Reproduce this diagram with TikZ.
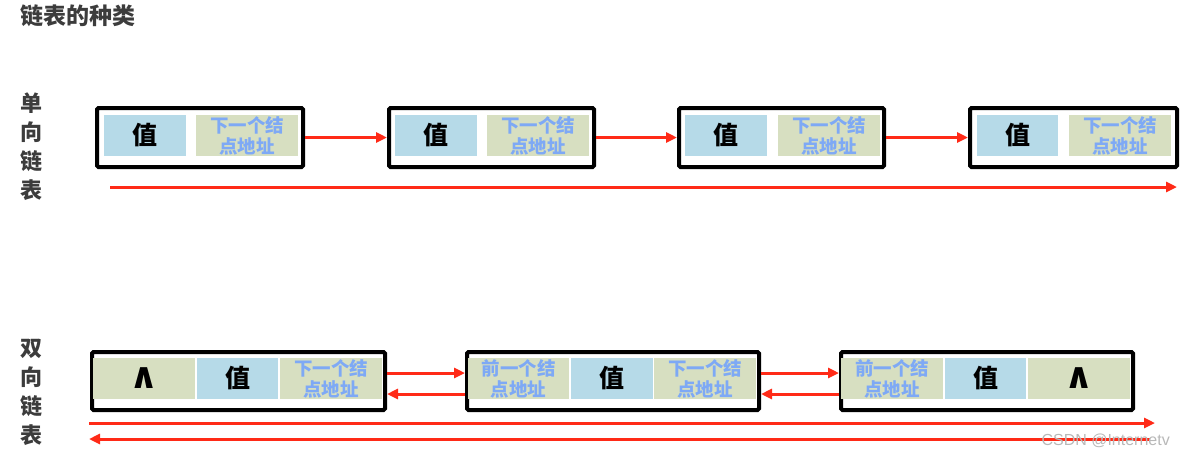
\documentclass[tikz,border=0pt]{standalone}
\usepackage{fontspec}
\setmainfont{Noto Sans CJK SC}
\newfontfamily\symfont{DejaVu Sans}
\newfontfamily\wmfont{Liberation Sans}
\usetikzlibrary{arrows.meta}
\definecolor{valc}{HTML}{B6DAE8}
\definecolor{ptrc}{HTML}{D7DFC1}
\definecolor{ptrtxt}{HTML}{7EA9F5}
\definecolor{redc}{HTML}{FF2A17}
\definecolor{labc}{HTML}{3C3C3C}
\definecolor{wmc}{HTML}{B8B8B8}
\begin{document}
\begin{tikzpicture}[x=1pt,y=-1pt,
 outer/.style={draw=black,line width=4pt,rounded corners=1.5pt,anchor=north west,inner sep=0pt,minimum height=59pt},
 cellbase/.style={anchor=north west,inner sep=0pt,minimum height=41pt,outer sep=0pt},
 valcell/.style={cellbase,fill=valc,font=\fontsize{25}{27}\selectfont\bfseries},
 ptrcell/.style={cellbase,fill=ptrc,align=center,text=ptrtxt,font=\fontsize{18.5}{21}\selectfont\bfseries},
 nilcell/.style={cellbase,fill=ptrc,font=\symfont\fontsize{36}{36}\selectfont\bfseries},
 link/.style={draw=redc,line width=3pt,-{Triangle[length=11pt,width=10pt]}},
 side/.style={font=\fontsize{22}{29}\selectfont\bfseries,text=labc,align=center,inner sep=0pt}]
\useasboundingbox (0,0) rectangle (1183,459);

\node[anchor=west,inner sep=0pt,text=labc,font=\fontsize{23}{25}\selectfont\bfseries] (title) at (20,16) {链表的种类};
\node[side] (lab1) at (31,147) {单\\向\\链\\表};
\node[side] (lab2) at (31,392) {双\\向\\链\\表};

% single linked list
\node[outer,minimum width=206pt] (s1) at (95,106) {};
\node[outer,minimum width=205pt] (s2) at (387,106) {};
\node[outer,minimum width=205pt] (s3) at (677,106) {};
\node[outer,minimum width=207pt] (s4) at (968,106) {};

\node[valcell,minimum width=82pt] (s1v) at (104,115) {值};
\node[ptrcell,minimum width=102pt] (s1p) at (196,115) {下一个结\\点地址};
\node[valcell,minimum width=82pt] (s2v) at (395,115) {值};
\node[ptrcell,minimum width=102pt] (s2p) at (487,115) {下一个结\\点地址};
\node[valcell,minimum width=82pt] (s3v) at (685,115) {值};
\node[ptrcell,minimum width=102pt] (s3p) at (778,115) {下一个结\\点地址};
\node[valcell,minimum width=81pt] (s4v) at (977,115) {值};
\node[ptrcell,minimum width=102pt] (s4p) at (1069,115) {下一个结\\点地址};

\draw[link] (s1.east) -- (s2.west);
\draw[link] (s2.east) -- (s3.west);
\draw[link] (s3.east) -- (s4.west);

\coordinate (sA) at (110,187);
\coordinate (sB) at (1177,187);
\draw[link] (sA) -- (sB);

% doubly linked list
\node[outer,minimum width=293pt,minimum height=58pt] (d1) at (90,350) {};
\node[outer,minimum width=292pt,minimum height=58pt] (d2) at (465,350) {};
\node[outer,minimum width=292pt,minimum height=58pt] (d3) at (839,350) {};

\node[nilcell,minimum width=102pt] (d1n) at (93,358) {∧};
\node[valcell,minimum width=81pt] (d1v) at (197,358) {值};
\node[ptrcell,minimum width=102pt] (d1p) at (280,358) {下一个结\\点地址};

\node[ptrcell,minimum width=101pt] (d2q) at (468,358) {前一个结\\点地址};
\node[valcell,minimum width=82pt] (d2v) at (571,358) {值};
\node[ptrcell,minimum width=102pt] (d2p) at (654,358) {下一个结\\点地址};

\node[ptrcell,minimum width=102pt] (d3q) at (841,358) {前一个结\\点地址};
\node[valcell,minimum width=81pt] (d3v) at (945,358) {值};
\node[nilcell,minimum width=102pt] (d3n) at (1028,358) {∧};

\draw[link] ([yshift=8pt]d1.east) -- ([yshift=8pt]d2.west);
\draw[link] ([yshift=-13pt]d2.west) -- ([yshift=-13pt]d1.east);
\draw[link] ([yshift=8pt]d2.east) -- ([yshift=8pt]d3.west);
\draw[link] ([yshift=-13pt]d3.west) -- ([yshift=-13pt]d2.east);

\coordinate (dA) at (89,423);
\coordinate (dB) at (1155,423);
\coordinate (dC) at (1150,439);
\coordinate (dD) at (89,439);
\draw[link] (dA) -- (dB);
\draw[link] (dC) -- (dD);

\node[anchor=east,inner sep=0pt,text=wmc,font=\wmfont\fontsize{16}{18}\selectfont] (wm) at (1170,441) {CSDN @Internetv};
\end{tikzpicture}
\end{document}
